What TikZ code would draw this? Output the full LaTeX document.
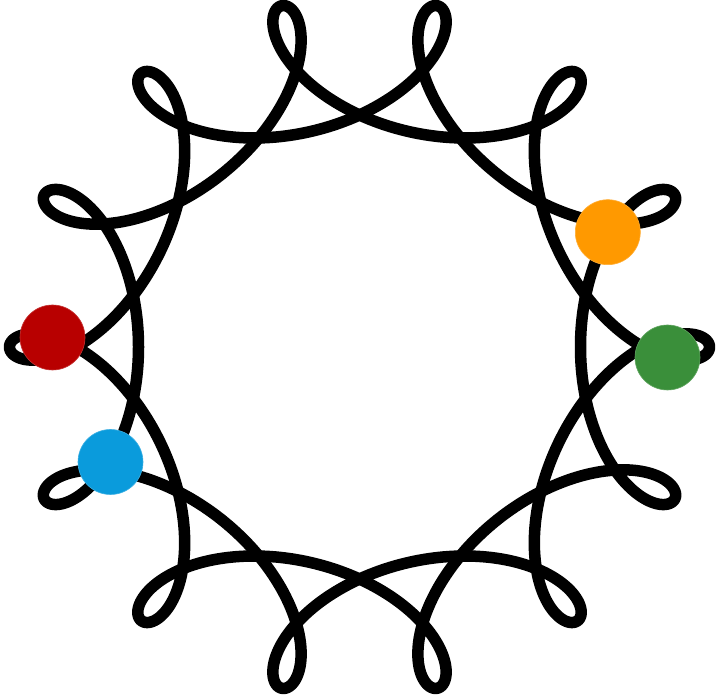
\documentclass[tikz,border=0pt]{standalone}
\definecolor{dotred}{HTML}{B80000}
\definecolor{dotblue}{HTML}{0A9BDC}
\definecolor{dotorange}{HTML}{FF9900}
\definecolor{dotgreen}{HTML}{3A8F3A}
\tikzset{
  curveline/.style={line width=11.5pt, black, line join=round},
  spot/.style={circle, minimum size=65pt, inner sep=0pt, draw=#1!80!white, line width=0.6pt, fill=#1}
}
\begin{document}
\begin{tikzpicture}[x=1pt,y=1pt]
\useasboundingbox (0,0) rectangle (718,697);
\fill[white] (0,0) rectangle (718,697);
% first seven-loop curve (loops at 0, 51.4, 102.9, ... degrees)
\draw[curveline] plot[domain=0:360, samples=1081, smooth, variable=\t]
  ({359.5+285.5*cos(\t)+67.5*cos(-6*\t)-3*cos(8*\t)},
   {350+285.5*sin(\t)+67.5*sin(-6*\t)-3*sin(8*\t)}) -- cycle;
% second seven-loop curve, turned by 180 degrees
\draw[curveline] plot[domain=0:360, samples=1081, smooth, variable=\t]
  ({359.5-285.5*cos(\t)-67.5*cos(-6*\t)+3*cos(8*\t)},
   {350-285.5*sin(\t)-67.5*sin(-6*\t)+3*sin(8*\t)}) -- cycle;
% coloured dots
\node[spot=dotred]    (red)    at (52.5,359.5) {};
\node[spot=dotblue]   (blue)   at (110.5,235)  {};
\node[spot=dotorange] (orange) at (607.8,464.8) {};
\node[spot=dotgreen]  (green)  at (667.5,339.5) {};
\end{tikzpicture}
\end{document}
